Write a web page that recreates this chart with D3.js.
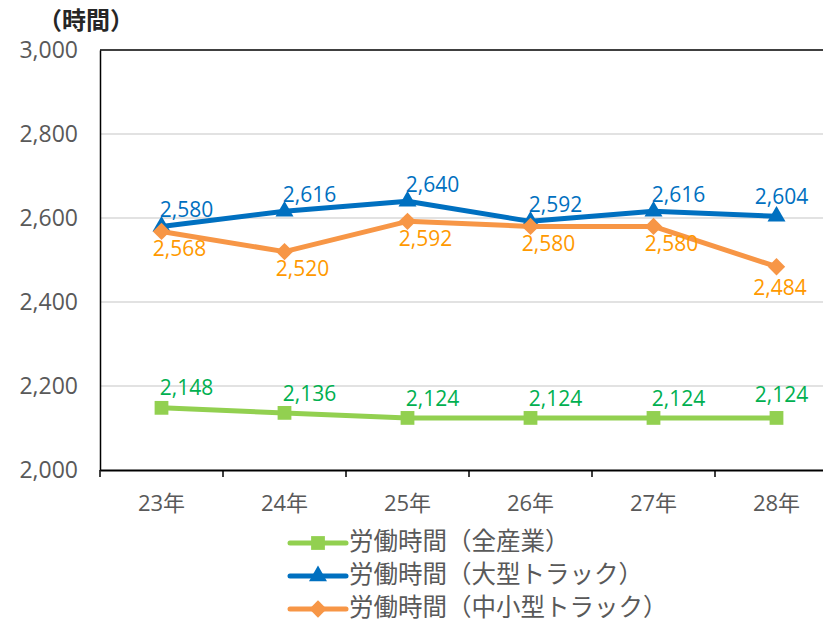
<!DOCTYPE html>
<html>
<head>
<meta charset="utf-8">
<script src="https://cdn.jsdelivr.net/npm/d3@7"></script>
<style>
  body { margin: 0; background: #fff; }
  text { font-family: "Open Sans", "Noto Sans CJK JP", sans-serif; }
</style>
</head>
<body>
<svg id="chart"></svg>
<script>
// categories and values
const years = ['23年', '24年', '25年', '26年', '27年', '28年'];
const allIndustry = [2148, 2136, 2124, 2124, 2124, 2124];
const largeTruck = [2580, 2616, 2640, 2592, 2616, 2604];
const smallTruck = [2568, 2520, 2592, 2580, 2580, 2484];
const yTicks = [2000, 2200, 2400, 2600, 2800, 3000];
const seriesNames = ['労働時間（全産業）', '労働時間（大型トラック）', '労働時間（中小型トラック）'];

const width = 823, height = 625;
const margin = { top: 50, left: 100, bottom: 155 };
const plotW = 123 * 6;
const plotH = height - margin.top - margin.bottom;

// square rotated 45deg, to get the wide diamond marker
const wideDiamond = {
  draw(ctx, size) {
    const r = Math.sqrt(size / 2);
    ctx.moveTo(0, -r);
    ctx.lineTo(r, 0);
    ctx.lineTo(0, r);
    ctx.lineTo(-r, 0);
    ctx.closePath();
  }
};

const series = [
  { name: seriesNames[0], values: allIndustry, line: '#92D050', label: '#00B050', symbol: d3.symbolSquare, size: 190, dx: 25, dy: -18 },
  { name: seriesNames[1], values: largeTruck, line: '#0070C0', label: '#0070C0', symbol: d3.symbolTriangle, size: 140, dx: 25, dy: -15 },
  { name: seriesNames[2], values: smallTruck, line: '#F79646', label: '#FF9900', symbol: wideDiamond, size: 150, dx: 18, dy: 19 }
];

const svg = d3.select('#chart')
  .attr('width', width)
  .attr('height', height);

const x = d3.scaleBand()
  .domain(years)
  .range([0, plotW]);

const y = d3.scaleLinear()
  .domain([2000, 3000])
  .range([plotH, 0]);

const g = svg.append('g')
  .attr('transform', `translate(${margin.left},${margin.top})`);

// gridlines
g.selectAll('.grid')
  .data(yTicks.slice(1, -1))
  .enter().append('line')
  .attr('x1', 0).attr('x2', plotW)
  .attr('y1', d => y(d)).attr('y2', d => y(d))
  .attr('stroke', '#D9D9D9')
  .attr('stroke-width', 1.5);

// plot border (top + left)
g.append('line')
  .attr('x1', 0).attr('x2', plotW)
  .attr('y1', 0).attr('y2', 0)
  .attr('stroke', '#000').attr('stroke-width', 1.5);

// y axis
const yAxis = g.append('g')
  .call(d3.axisLeft(y).tickValues(yTicks).tickSize(0).tickPadding(22).tickFormat(d3.format(',')));
yAxis.select('.domain').attr('stroke', '#000').attr('stroke-width', 1.5);
yAxis.selectAll('text')
  .attr('fill', '#595959')
  .style('font-size', '23px');

// x axis
const xAxis = g.append('g')
  .attr('transform', `translate(0,${plotH})`)
  .call(d3.axisBottom(x).tickSize(0).tickPadding(25));
xAxis.select('.domain').attr('stroke', '#000').attr('stroke-width', 2);
xAxis.selectAll('text')
  .attr('fill', '#595959')
  .style('font-size', '22px');
// boundary ticks between categories
xAxis.selectAll('.bound')
  .data(d3.range(years.length + 1))
  .enter().append('line')
  .attr('x1', i => i * x.step()).attr('x2', i => i * x.step())
  .attr('y1', 0).attr('y2', 7)
  .attr('stroke', '#000').attr('stroke-width', 1.5);

// unit label
svg.append('text')
  .attr('x', 38).attr('y', 29)
  .attr('fill', '#262626')
  .style('font-size', '24px')
  .style('font-weight', 'bold')
  .style('font-family', '"Noto Sans CJK JP", sans-serif')
  .text('（時間）');

const line = d3.line()
  .x((d, i) => x(years[i]) + x.bandwidth() / 2)
  .y(d => y(d));

series.forEach(s => {
  g.append('path')
    .datum(s.values)
    .attr('fill', 'none')
    .attr('stroke', s.line)
    .attr('stroke-width', 5)
    .attr('stroke-linejoin', 'round')
    .attr('d', line);

  g.selectAll(null)
    .data(s.values)
    .enter().append('path')
    .attr('d', d3.symbol().type(s.symbol).size(s.size))
    .attr('fill', s.line)
    .attr('transform', (d, i) => `translate(${x(years[i]) + x.bandwidth() / 2},${y(d)})`);
});

series.forEach(s => {
  g.selectAll(null)
    .data(s.values)
    .enter().append('text')
    .attr('x', (d, i) => x(years[i]) + x.bandwidth() / 2 + (i === years.length - 1 ? s.dx * 0.2 : s.dx))
    .attr('y', (d, i) => y(d) + (i === years.length - 1 ? s.dy * 1.2 : s.dy))
    .attr('text-anchor', 'middle')
    .attr('dominant-baseline', 'middle')
    .attr('fill', s.label)
    .style('font-size', '21px')
    .text(d => d3.format(',')(d));
});

// legend
const legend = svg.append('g')
  .attr('transform', 'translate(290,543)');
series.forEach((s, i) => {
  const row = legend.append('g').attr('transform', `translate(0,${i * 33})`);
  row.append('line')
    .attr('x1', 0).attr('x2', 56)
    .attr('stroke', s.line)
    .attr('stroke-width', 5)
    .attr('stroke-linecap', 'round');
  row.append('path')
    .attr('d', d3.symbol().type(s.symbol).size(s.size))
    .attr('fill', s.line)
    .attr('transform', 'translate(28,0)');
  row.append('text')
    .attr('x', 59)
    .attr('dominant-baseline', 'middle')
    .attr('fill', '#595959')
    .style('font-size', '24.5px')
    .style('font-family', '"Noto Sans CJK JP", sans-serif')
    .text(s.name);
});
</script>
</body>
</html>
